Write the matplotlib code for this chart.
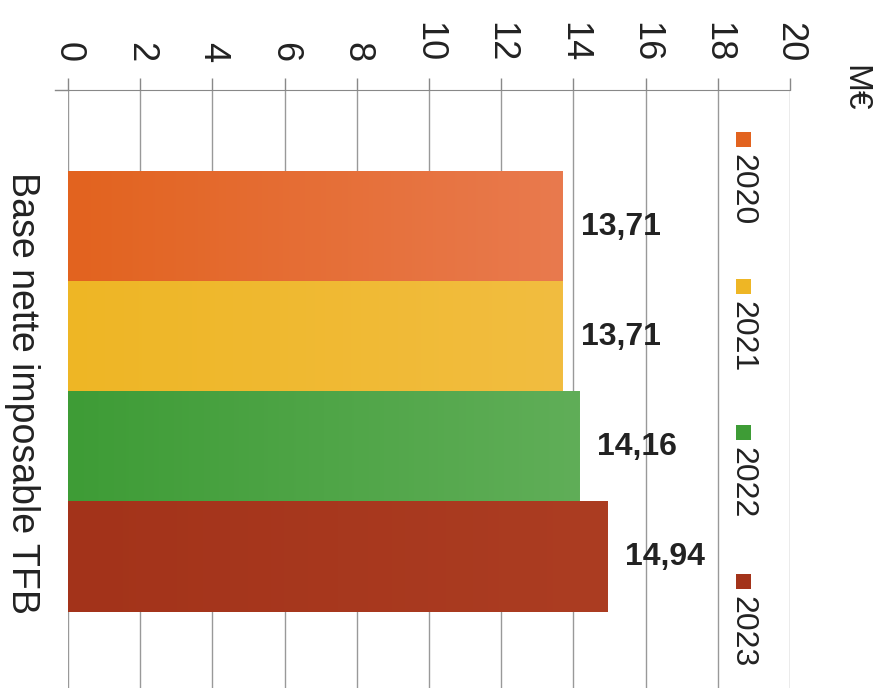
import numpy as np
import matplotlib.pyplot as plt
from matplotlib.patches import Rectangle
from matplotlib.lines import Line2D
from matplotlib.colors import LinearSegmentedColormap

plt.rcParams['font.family'] = ['Liberation Sans', 'DejaVu Sans']

# donnees
annees = ["2020", "2021", "2022", "2023"]
valeurs = [13.71, 13.71, 14.16, 14.94]
etiquettes = ["13,71", "13,71", "14,16", "14,94"]
couleurs = ["#E2631F", "#EEB625", "#3E9C36", "#A3331A"]
couleurs_claires = ["#E97A4E", "#F2BD40", "#60AE58", "#AC3D22"]
graduations = [0, 2, 4, 6, 8, 10, 12, 14, 16, 18, 20]

fig = plt.figure(figsize=(8.9, 6.88), dpi=100)
ax = fig.add_axes([68 / 890, 0, 722 / 890, 1 - 90 / 688])

pos = list(range(len(annees)))
barres = ax.barh(pos, valeurs, height=1.0, color=couleurs, zorder=2)

# degrade dans chaque barre (plus clair vers la droite)
grad = np.linspace(0, 1, 256).reshape(1, -1)
for b, c1, c2 in zip(barres, couleurs, couleurs_claires):
    cmap = LinearSegmentedColormap.from_list("g", [c1, c2])
    x0, y0 = b.get_x(), b.get_y()
    w, h = b.get_width(), b.get_height()
    ax.imshow(grad, cmap=cmap, aspect="auto", extent=[x0, x0 + w, y0 + h, y0],
              zorder=2.5)

for p, v, t in zip(pos, valeurs, etiquettes):
    ax.text(v + 0.5, p, t, ha="left", va="center", fontsize=23,
            fontweight="bold", color="#222222", zorder=3)

ax.set_xlim(0, 20)
ax.set_ylim(4.19, -1.245)
ax.set_xticks(graduations)
ax.set_xticklabels([str(g) for g in graduations], rotation=-90, fontsize=26,
                   color="#222222")
ax.xaxis.tick_top()
ax.tick_params(axis="x", direction="out", length=9, width=1, color="#888888", pad=11)
ax.set_yticks([])
ax.grid(axis="x", color="#999999", lw=1, zorder=0)
for s in ["right", "bottom", "left"]:
    ax.spines[s].set_visible(False)
ax.spines["top"].set_color("#888888")

# petit bout d'axe a gauche
fig.add_artist(Line2D([55 / 890, 68 / 890], [1 - 90 / 688, 1 - 90 / 688],
                      color="#888888", lw=1))

# legende verticale
leg_y = [140, 287, 433, 582]
for y, a, c in zip(leg_y, annees, couleurs):
    fig.add_artist(Rectangle(((743 - 7) / 890, 1 - (y + 7) / 688), 15 / 890, 15 / 688,
                             facecolor=c, edgecolor="none"))
    fig.text(742 / 890, 1 - (y + 14) / 688, a, rotation=-90, ha="center", va="top",
             fontsize=23, color="#222222")

fig.text(855 / 890, 1 - 88 / 688, "M€", rotation=-90, ha="center", va="center",
         fontsize=24, color="#222222")
fig.text(22 / 890, 1 - 393 / 688, "Base nette imposable TFB", rotation=-90,
         ha="center", va="center", fontsize=27, color="#222222")

fig.savefig("out.png", dpi=100, facecolor="white")
